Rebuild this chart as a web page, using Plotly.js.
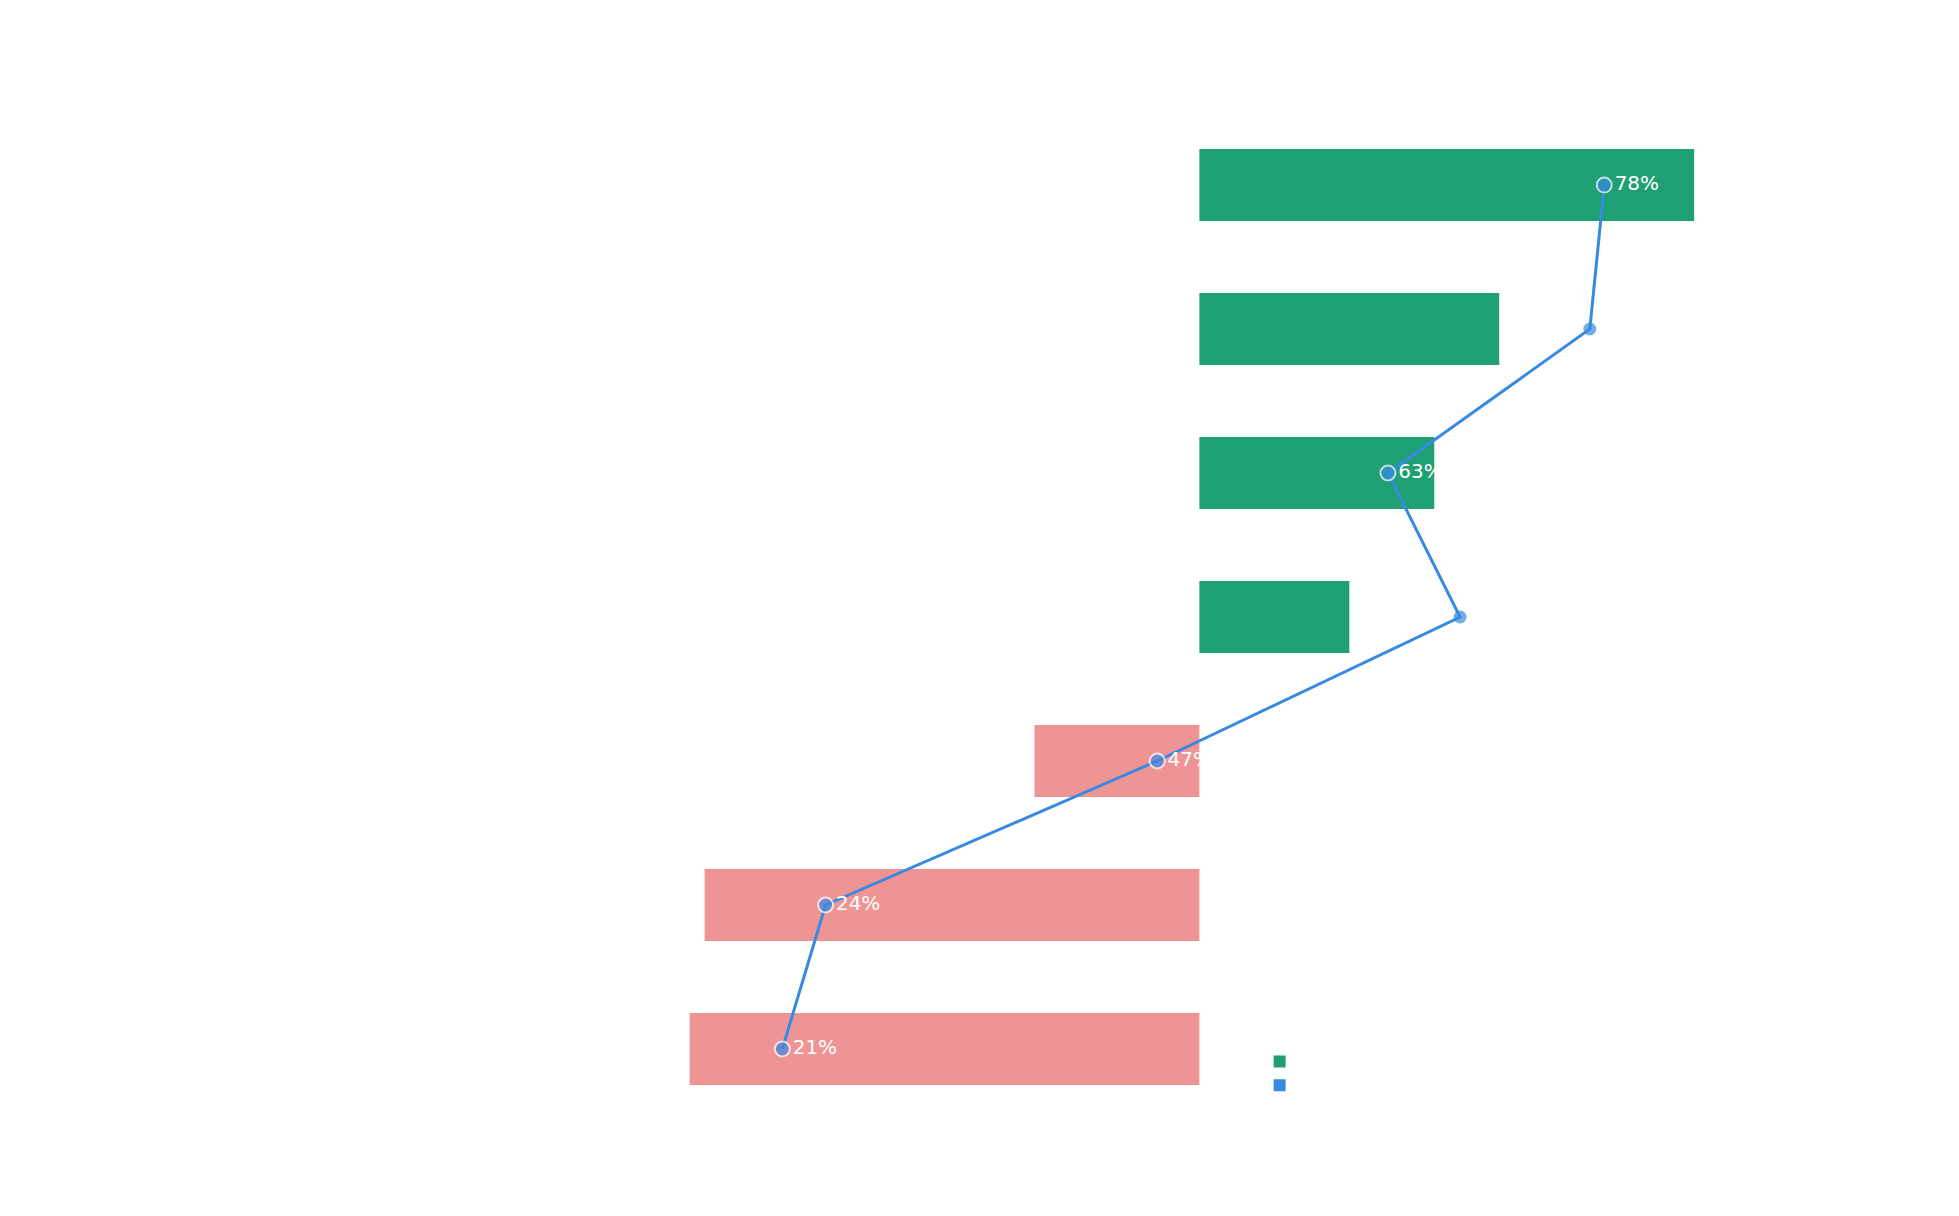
<!DOCTYPE html>
<html>
<head>
<meta charset="utf-8">
<script src="https://cdn.plot.ly/plotly-3.0.1.min.js"></script>
<style>body{margin:0;background:#fff}#chart{width:1959px;height:1216px}</style>
</head>
<body>
<div id="chart"></div>
<script>
var rows = [0, 1, 2, 3, 4, 5, 6];
var barValues = [99, 60, 47, 30, -33, -99, -102];
var barColors = ['#1e9f74', '#1e9f74', '#1e9f74', '#1e9f74', '#ef9494', '#ef9494', '#ef9494'];
var rates = [78, 77, 63, 68, 47, 24, 21];
var rateLabels = ['78%', '', '63%', '', '47%', '24%', '21%'];
var markerSizes = [15, 13, 15, 13, 15, 15, 15];
var markerLines = [2, 0, 2, 0, 2, 2, 2];

var bars = {
    type: 'bar',
    orientation: 'h',
    x: barValues,
    y: rows,
    width: 0.5,
    marker: {color: barColors},
    name: 'Change',
    showlegend: true,
    hoverinfo: 'x'
};
var line = {
    type: 'scatter',
    mode: 'lines+markers+text',
    x: rates,
    y: rows,
    xaxis: 'x2',
    text: rateLabels,
    textposition: 'middle right',
    textfont: {color: '#ffffff', size: 20, family: 'DejaVu Sans'},
    line: {color: '#3889e0', width: 3},
    marker: {color: '#3889e0', size: markerSizes, line: {color: '#ffffff', width: markerLines}},
    showlegend: false,
    cliponaxis: false
};
var legendDummy = {
    type: 'bar',
    orientation: 'h',
    x: [null],
    y: [null],
    marker: {color: '#3889e0'},
    name: 'Rate'
};

var layout = {
    width: 1959,
    height: 1216,
    margin: {l: 0, r: 0, t: 0, b: 0},
    paper_bgcolor: '#ffffff',
    plot_bgcolor: '#ffffff',
    font: {family: 'DejaVu Sans', color: '#ffffff'},
    xaxis: {range: [-240, 152], showgrid: false, zeroline: false, showticklabels: false},
    xaxis2: {range: [-33.25, 102.6], overlaying: 'x', side: 'top', showgrid: false, zeroline: false, showticklabels: false},
    yaxis: {range: [7.16, -1.285], showgrid: false, zeroline: false, showticklabels: false},
    legend: {x: 0.643, y: 0.141, xanchor: 'left', yanchor: 'top', bgcolor: 'rgba(0,0,0,0)', font: {color: '#ffffff', size: 16}},
    showlegend: true
};

Plotly.newPlot('chart', [bars, legendDummy, line], layout, {displayModeBar: false});
</script>
</body>
</html>
